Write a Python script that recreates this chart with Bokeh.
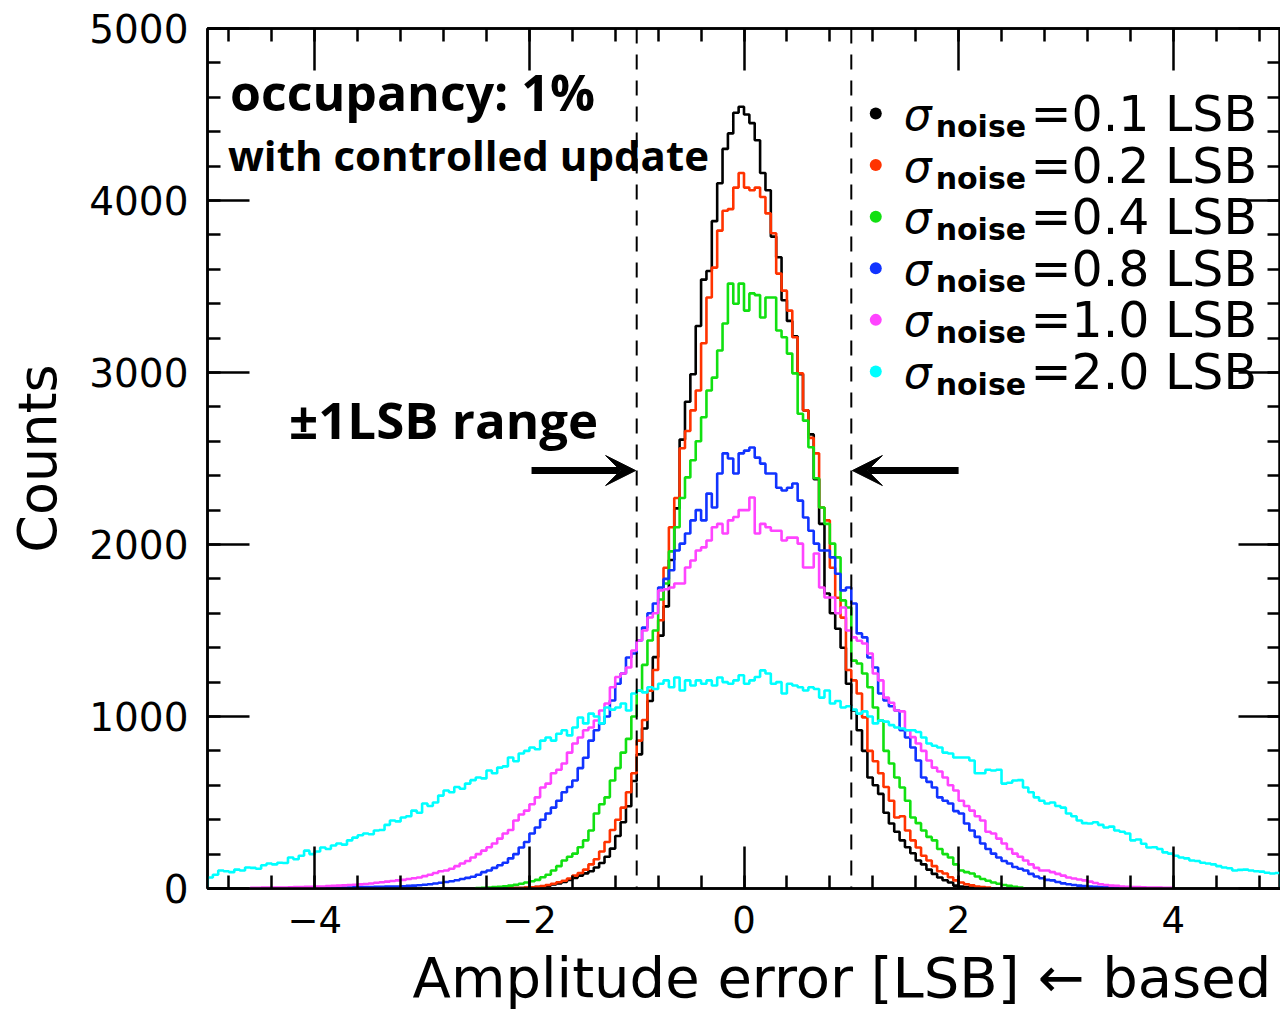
import numpy as np
from bokeh.plotting import figure
from bokeh.models import (Range1d, LinearAxis, SingleIntervalTicker, Span,
                          Arrow, VeeHead, Label)
from bokeh.core.properties import value
from bokeh.embed import file_html
from bokeh.resources import INLINE

# ---------------- data (histogram counts, bin width 0.05 LSB) ----------------
BIN_WIDTH = 0.05

noise_levels = ["0.1", "0.2", "0.4", "0.8", "1.0", "2.0"]
colors = ["#000000", "#ff3300", "#11e011", "#1133ff", "#ff44ff", "#00ffff"]

black_start = -2.2
black_counts = [
    1, 2, 2, 4, 5, 8, 12, 17, 24, 30,
    38, 50, 62, 75, 88, 100, 122, 148, 185, 232,
    305, 385, 478, 625, 780, 930, 1090, 1345, 1470, 1640,
    1910, 2210, 2610, 2830, 2990, 3270, 3540, 3590, 3880, 4100,
    4300, 4390, 4510, 4545,
    4500, 4450, 4350, 4160, 4060, 3790, 3670, 3420, 3300, 3210,
    2990, 2780, 2640, 2380, 2120, 1715, 1600, 1510, 1400, 1190,
    1035, 920, 800, 645, 600, 550, 440, 378, 330, 280,
    240, 205, 163, 140, 110, 85, 64, 48, 35, 17,
    12, 8, 5, 3, 2, 1]

red_start = -2.2
red_counts = [
    1, 2, 3, 5, 7, 10, 14, 20, 28, 36,
    45, 58, 75, 90, 110, 140, 170, 215, 270, 340,
    400, 470, 560, 670, 860, 980, 1150, 1270, 1560, 1865,
    2100, 2270, 2560, 2660, 2780, 2895, 3170, 3436, 3610, 3825,
    3940, 3950, 4075, 4160,
    4075, 4060, 4075, 4020, 3925, 3810, 3575, 3476, 3360, 3205,
    2995, 2780, 2620, 2530, 2215, 2140, 1865, 1690, 1575, 1270,
    1210, 1134, 995, 800, 740, 670, 590, 510, 413, 420,
    337, 280, 238, 190, 163, 130, 100, 87, 65, 47,
    35, 25, 18, 12, 8, 5]

green_start = -2.5
green_counts = [
    3, 4, 6, 8, 10, 13, 17, 22, 28, 35,
    42, 50, 65, 80, 105, 130, 163, 185, 203, 240,
    280, 337, 436, 490, 530, 628, 700, 790, 870, 1000,
    1150, 1300, 1442, 1500, 1680, 1773, 1960, 2100, 2270, 2390,
    2490, 2600, 2740, 2895, 2970, 3128, 3285, 3517, 3400, 3517,
    3360, 3460, 3450, 3320, 3436, 3436, 3244, 3205, 3110, 2995,
    2760, 2720, 2565, 2385, 2215, 2120, 2005, 1925, 1675, 1634,
    1325, 1308, 1250, 1170, 1052, 977, 800, 727, 645, 587,
    510, 413, 380, 337, 300, 280, 230, 200, 180, 140,
    105, 95, 87, 70, 55, 45, 35, 28, 20, 15,
    10, 6]

blue_start = -4.0
blue_counts = [
    3, 3, 4, 4, 5, 6, 6, 7, 8, 8,
    9, 10, 10, 11, 12, 12, 13, 15, 17, 19,
    22, 25, 29, 33, 38, 42, 48, 55, 62, 68,
    80, 95, 105, 120, 135, 150, 175, 200, 238, 270,
    320, 355, 400, 436, 470, 510, 560, 590, 628, 700,
    760, 860, 920, 960, 1000, 1093, 1190, 1250, 1343, 1366,
    1442, 1517, 1600, 1657, 1750, 1800, 1850, 1965, 2005, 2064,
    2140, 2200, 2140, 2296, 2215, 2413, 2530, 2500, 2413, 2530,
    2546, 2564, 2505, 2470, 2413, 2413, 2330, 2314, 2330, 2355,
    2255, 2157, 2080, 2005, 1965, 1965, 1925, 1830, 1733, 1750,
    1657, 1483, 1460, 1343, 1285, 1134, 1093, 1060, 1035, 920,
    878, 820, 744, 645, 620, 587, 530, 510, 494, 450,
    436, 378, 337, 300, 262, 230, 203, 180, 160, 145,
    125, 115, 105, 85, 70, 60, 50, 47, 38, 30,
    25, 20, 17, 14, 12, 10, 8, 7, 6, 5,
    4, 3]

magenta_start = -4.6
magenta_counts = [
    4, 4, 5, 5, 5, 6, 6, 7, 8, 8,
    10, 10, 11, 12, 14, 15, 17, 18, 20, 22,
    24, 26, 29, 33, 36, 40, 44, 47, 50, 55,
    60, 64, 72, 80, 90, 100, 105, 115, 130, 145,
    160, 180, 200, 220, 240, 262, 290, 320, 340, 395,
    430, 453, 490, 530, 587, 610, 670, 690, 727, 790,
    843, 878, 920, 936, 977, 1035, 1076, 1170, 1230, 1250,
    1285, 1384, 1442, 1500, 1576, 1600, 1733, 1740, 1750, 1773,
    1773, 1866, 1907, 1965, 1983, 2023, 2100, 2120, 2064, 2140,
    2160, 2200,
    2200, 2273, 2064, 2120, 2100, 2080, 2080, 2023, 2040, 2040,
    2005, 1866, 1866, 1948, 1750, 1692, 1692, 1600, 1634, 1500,
    1460, 1440, 1424, 1366, 1250, 1210, 1110, 1080, 1035, 1030,
    920, 880, 843, 800, 744, 703, 680, 645, 600, 570,
    510, 480, 453, 420, 395, 330, 320, 290, 262, 230,
    203, 185, 163, 140, 120, 105, 105, 95, 85, 75,
    64, 58, 52, 47, 40, 32, 25, 20, 17, 15,
    12, 10, 9, 8, 7, 6, 5, 5, 4, 4]

cyan_start = -5.0
cyan_counts = [
    64, 80, 105, 100, 95, 110, 105, 122, 120, 115,
    135, 145, 140, 150, 148, 180, 170, 190, 220, 200,
    215, 238, 230, 250, 262, 255, 280, 296, 310, 320,
    315, 337, 340, 370, 395, 390, 413, 420, 453, 440,
    494, 480, 500, 540, 570, 560, 590, 580, 610, 630,
    645, 640, 686, 670, 703, 710, 762, 740, 785, 800,
    820, 810, 860, 878, 860, 900, 920, 890, 936, 994,
    960, 1017, 1000, 960, 1052, 1040, 1052, 1076, 1035, 1134,
    1151, 1140, 1170, 1160, 1190, 1210, 1170, 1227, 1151, 1210,
    1180, 1210, 1190, 1210, 1180, 1227, 1200, 1190, 1210, 1240,
    1190, 1210, 1230, 1268, 1250, 1190, 1200, 1134, 1190, 1180,
    1170, 1151, 1170, 1160, 1110, 1151, 1076, 1090, 1052, 1060,
    1040, 1017, 1030, 1000, 960, 977, 970, 950, 936, 930,
    920, 920, 910, 878, 843, 830, 820, 790, 785, 762,
    762, 762, 744, 670, 670, 690, 686, 690, 610, 615,
    628, 630, 587, 560, 530, 510, 494, 500, 480, 470,
    436, 420, 395, 380, 378, 385, 370, 355, 360, 337,
    330, 320, 280, 285, 260, 238, 240, 230, 210, 203,
    190, 180, 175, 163, 160, 150, 145, 140, 130, 122,
    118, 105, 108, 110, 105, 100, 98, 92, 87, 90]

series_starts = [black_start, red_start, green_start, blue_start, magenta_start, cyan_start]
series_counts = [black_counts, red_counts, green_counts, blue_counts, magenta_counts, cyan_counts]

x_ticks = [-4, -2, 0, 2, 4]
x_tick_labels = ["\u22124", "\u22122", "0", "2", "4"]
y_ticks = [0, 1000, 2000, 3000, 4000, 5000]
y_tick_labels = ["0", "1000", "2000", "3000", "4000", "5000"]

x_title = "Amplitude error [LSB] \u2190 based"
y_title = "Counts"

lsb_range = [-1.0, 1.0]

# ---------------- figure ----------------
p = figure(width=1280, height=1016, x_range=Range1d(-5, 5), y_range=Range1d(0, 5000),
           output_backend="svg", toolbar_location=None,
           x_axis_location=None, y_axis_location=None,
           min_border_left=207, min_border_right=0, min_border_top=28,
           min_border_bottom=128)
p.grid.visible = False
p.outline_line_color = "black"
p.outline_line_width = 2.5
p.background_fill_color = "white"
p.border_fill_color = "white"

bottom_axis = LinearAxis()
top_axis = LinearAxis()
left_axis = LinearAxis()
right_axis = LinearAxis()
p.add_layout(bottom_axis, "below")
p.add_layout(top_axis, "above")
p.add_layout(left_axis, "left")
p.add_layout(right_axis, "right")

TICK_FONT = "DejaVu Sans"

def style_axis(ax, interval, labels_visible, overrides, standoff, size="37px"):
    ax.ticker = SingleIntervalTicker(interval=interval, num_minor_ticks=5)
    ax.major_tick_in = 42
    ax.major_tick_out = 0
    ax.minor_tick_in = 13
    ax.minor_tick_out = 0
    ax.axis_line_width = 2.5
    ax.axis_line_color = "black"
    ax.major_tick_line_width = 2.5
    ax.minor_tick_line_width = 2.5
    ax.major_tick_line_color = "black"
    ax.minor_tick_line_color = "black"
    if labels_visible:
        ax.major_label_text_font = TICK_FONT
        ax.major_label_text_font_size = size
        ax.major_label_text_color = "black"
        ax.major_label_standoff = standoff
        ax.major_label_overrides = overrides
    else:
        ax.major_label_text_font_size = "0px"
        ax.major_label_standoff = 0
        ax.major_label_text_alpha = 0

x_over = {float(t): l for t, l in zip(x_ticks, x_tick_labels)}
y_over = {float(t): l for t, l in zip(y_ticks, y_tick_labels)}
style_axis(bottom_axis, 2, True, x_over, 17, "37px")
style_axis(top_axis, 2, False, {}, 0)
style_axis(left_axis, 1000, True, y_over, 19, "39px")
style_axis(right_axis, 1000, False, {}, 0)

# the title is centred on the frame; leading no-break spaces shift the visible
# words to the right, as in the original where "← based" runs past the frame
bottom_axis.axis_label = "\u00a0" * 11 + x_title
bottom_axis.axis_label_text_font = "DejaVu Sans"
bottom_axis.axis_label_text_font_size = "56px"
bottom_axis.axis_label_text_font_style = "normal"
bottom_axis.axis_label_text_color = "black"
bottom_axis.axis_label_standoff = 9

left_axis.axis_label = y_title
left_axis.axis_label_text_font = "DejaVu Sans"
left_axis.axis_label_text_font_size = "54px"
left_axis.axis_label_text_font_style = "normal"
left_axis.axis_label_text_color = "black"
left_axis.axis_label_standoff = 17

# ---------------- histograms ----------------
for start, counts, col in zip(series_starts, series_counts, colors):
    c = np.array(counts, dtype=float)
    edges = start + BIN_WIDTH * np.arange(len(c) + 1)
    xs = np.repeat(edges, 2)
    ys = np.concatenate([[0.0], np.repeat(c, 2), [0.0]])
    p.line(xs, ys, line_color=col, line_width=2.6)

# ---------------- ±1 LSB markers ----------------
for loc in lsb_range:
    p.add_layout(Span(location=loc, dimension="height", line_color="black",
                      line_width=2, line_dash="15 11"))

p.add_layout(Arrow(end=VeeHead(size=30, fill_color="black", line_color="black"),
                   x_start=-1.98, y_start=2430, x_end=lsb_range[0] - 0.01, y_end=2430,
                   line_width=7, line_color="black"))
p.add_layout(Arrow(end=VeeHead(size=30, fill_color="black", line_color="black"),
                   x_start=2.0, y_start=2430, x_end=lsb_range[1] + 0.01, y_end=2430,
                   line_width=7, line_color="black"))

# ---------------- annotations ----------------
ANN_FONT = "Open Sans"
p.add_layout(Label(x=-4.79, y=4633, text="occupancy: 1%", text_font=ANN_FONT,
                   text_font_size="50px", text_font_style="bold",
                   text_baseline="alphabetic", text_color="black"))
p.add_layout(Label(x=-4.81, y=4267, text="with controlled update", text_font=ANN_FONT,
                   text_font_size="42px", text_font_style="bold",
                   text_baseline="alphabetic", text_color="black"))
p.add_layout(Label(x=-4.24, y=2732, text="\u00b11LSB range", text_font=ANN_FONT,
                   text_font_size="51px", text_font_style="bold",
                   text_baseline="alphabetic", text_color="black"))

# ---------------- legend (drawn manually) ----------------
rows = np.arange(len(noise_levels))
dot_y = 4506 - 300 * rows
txt_y = 4500 - 300 * rows
sub_y = 4430 - 300 * rows
p.scatter(x=[1.228] * len(rows), y=dot_y, size=12, color=colors, line_color=None)
p.text(x=[1.488] * len(rows), y=txt_y, text=["\u03c3"] * len(rows),
       text_font=value("DejaVu Sans"), text_font_style="italic",
       text_font_size="44px", text_baseline="alphabetic", text_color="black")
p.text(x=[1.786] * len(rows), y=sub_y, text=["noise"] * len(rows),
       text_font=value("DejaVu Sans"), text_font_style="bold",
       text_font_size="30px", text_baseline="alphabetic", text_color="black")
p.text(x=[2.67] * len(rows), y=txt_y, text=["=" + s + " LSB" for s in noise_levels],
       text_font=value("DejaVu Sans"), text_font_size="49px",
       text_baseline="alphabetic", text_color="black")

open("out.html", "w").write(file_html(p, INLINE))
